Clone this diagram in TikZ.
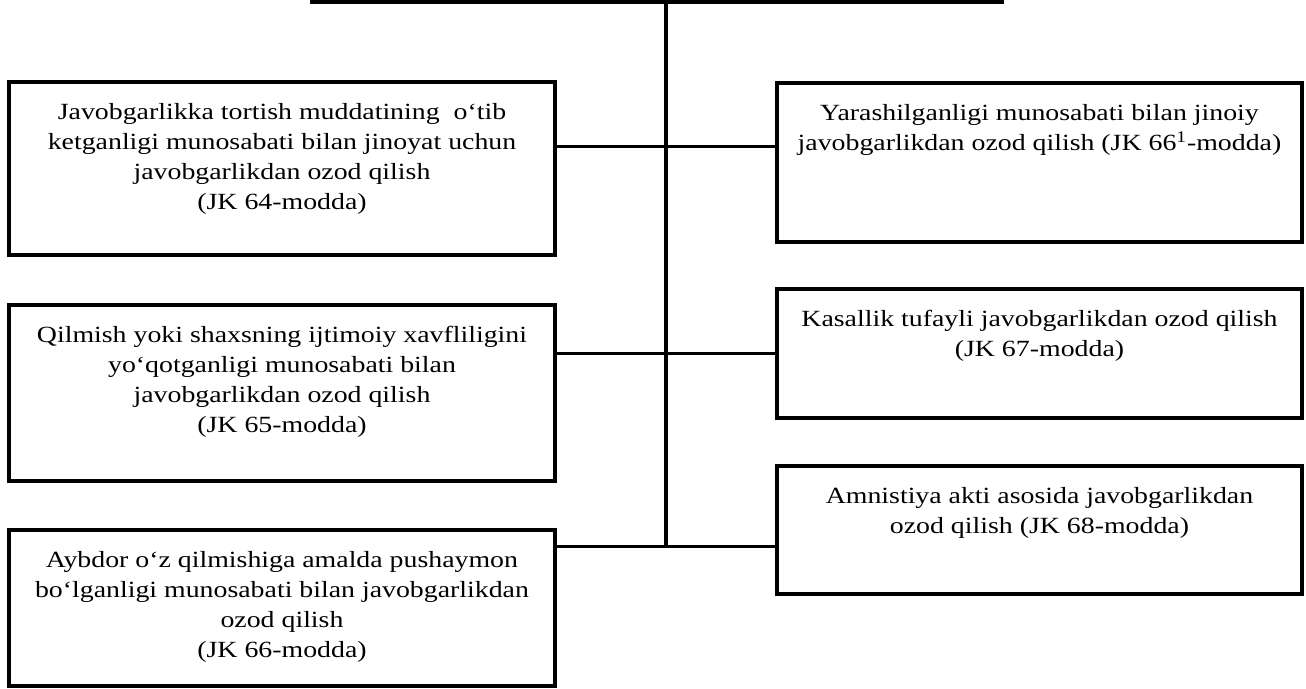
\documentclass[tikz,border=0pt]{standalone}
\usepackage{fontspec}
\setmainfont[FakeStretch=1.2]{Liberation Serif}
\usepackage{tikz}
\usetikzlibrary{positioning}

\begin{document}
\begin{tikzpicture}[
  x=0.02cm,y=-0.02cm,
  box/.style={draw,line width=2.2pt,minimum width=10.92cm},
  rbox/.style={box,minimum width=10.5cm},
  txt/.style={align=center,inner sep=0pt,font=\fontsize{13.2}{17}\selectfont},
  link/.style={line width=2pt}
]
\path[use as bounding box,fill=white] (0,0) rectangle (1306,689);
% head box, mostly cut off at the top
\node[box,minimum width=13.8cm,minimum height=2cm] (top) at (657,-48) {};
% left column
\node[box,minimum height=3.46cm] (l1) at (282,168.5) {};
\node[txt,below=0.46cm of l1.north] (t1) {Javobgarlikka tortish muddatining\ \ o‘tib\\ketganligi munosabati bilan jinoyat uchun\\javobgarlikdan ozod qilish\\(JK 64-modda)};
\node[box,minimum height=3.52cm] (l2) at (282,393) {};
\node[txt,below=0.46cm of l2.north] (t2) {Qilmish yoki shaxsning ijtimoiy xavfliligini\\yo‘qotganligi munosabati bilan\\javobgarlikdan ozod qilish\\(JK 65-modda)};
\node[box,minimum height=3.12cm] (l3) at (282,608) {};
\node[txt,below=0.46cm of l3.north] (t3) {Aybdor o‘z qilmishiga amalda pushaymon\\bo‘lganligi munosabati bilan javobgarlikdan\\ozod qilish\\(JK 66-modda)};
% right column
\node[rbox,minimum height=3.18cm] (r1) at (1039.5,162.5) {};
\node[txt,below=0.46cm of r1.north] (t4) {Yarashilganligi munosabati bilan jinoiy\\javobgarlikdan ozod qilish (JK 66\textsuperscript{1}-modda)};
\node[rbox,minimum height=2.58cm] (r2) at (1039.5,353.5) {};
\node[txt,below=0.46cm of r2.north] (t5) {Kasallik tufayli javobgarlikdan ozod qilish\\(JK 67-modda)};
\node[rbox,minimum height=2.56cm] (r3) at (1039.5,530) {};
\node[txt,below=0.46cm of r3.north] (t6) {Amnistiya akti asosida javobgarlikdan\\ozod qilish (JK 68-modda)};
% trunk and branches
\coordinate (j1) at (665.7,146.7);
\coordinate (j2) at (665.7,353.3);
\coordinate (j3) at (665.7,546.3);
\draw[link,line width=2.4pt] (top.south -| j1) -- (j3);
\draw[link] (l1.east |- j1) -- (r1.west |- j1);
\draw[link] (l2.east |- j2) -- (r2.west |- j2);
\draw[link] (l3.east |- j3) -- (r3.west |- j3);
\end{tikzpicture}
\end{document}
